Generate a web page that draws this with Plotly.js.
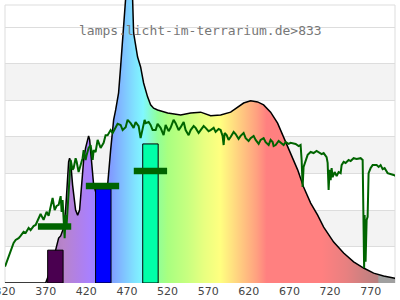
<!DOCTYPE html>
<html>
<head>
<meta charset="utf-8">
<script src="https://cdn.plot.ly/plotly-3.0.1.min.js"></script>
<style>html,body{margin:0;padding:0;background:#fff;}#chart{width:400px;height:300px;}</style>
</head>
<body>
<div id="chart"></div>
<script>
// Lamp spectrum (relative units), wavelength in nm
var specNm = [320,370,376.2,382.3,386,388.5,392.2,394.6,397.1,398.3,399.5,400.8,403.2,406.9,409.4,411.8,414.3,416.8,419.2,421.7,422.9,424.2,426.6,429.1,432.8,437.7,442.6,446.3,450,453.7,456.2,459.8,462.3,464.8,466,468.5,472.2,477.1,478.3,483.2,486.9,490.6,495.5,499.2,502.9,507.8,520.2,536.2,548.5,560.8,573.1,585.4,597.7,606.3,613.7,622.3,630.9,638.3,646.9,655.5,662.9,669.1,680.2,687.5,696.2,704.8,712.2,724.5,736.8,749.1,761.4,773.7,786,798.3,800.8];
var specVal = [0,0,0.36,0.90,1.23,1.29,1.51,2.00,2.96,3.32,3.42,3.32,2.68,2.00,1.86,2.00,2.68,3.37,3.70,3.97,4.03,3.92,3.23,2.68,2.41,2.33,2.41,2.68,3.64,4.47,4.74,5.21,5.92,6.66,7.29,7.80,8.40,7.75,6.85,6.19,5.92,5.48,5.10,4.88,4.79,4.74,4.66,4.60,4.66,4.68,4.58,4.60,4.68,4.82,4.93,4.99,4.96,4.88,4.68,4.38,4.00,3.64,3.10,2.63,2.19,1.86,1.53,1.12,0.82,0.58,0.41,0.27,0.19,0.14,0.12];

// Reference (sunlight) spectrum
var sunNm = [320,327,330.6,333.1,336.8,339.2,342.9,345.4,349.1,351.5,355.2,357.7,361.4,363.8,367.5,371.2,373.7,376.2,378.6,381.1,383.5,386,388.5,389.7,390.9,393.4,394.6,395.8,397.1,398.3,400.8,403.2,404.5,406.9,408.2,410.6,413.1,415.5,416.8,419.2,420.5,422.9,425.4,427.9,429.1,431.5,434,437.7,441.4,443.8,446.3,450,452.5,456.2,458.6,462.3,464.8,468.5,470.9,474.6,478.3,480.8,484.5,486.9,489.4,491.8,493.1,496.8,499.2,501.7,505.4,507.8,511.5,515.2,517.7,521.4,523.8,527.5,530,533.7,536.2,539.9,542.3,546,548.5,552.2,554.6,558.3,560.8,564.5,566.9,570.6,573.1,576.8,579.2,582.9,585.4,587.8,589.1,590.3,592.8,595.2,597.7,601.4,603.8,607.5,610,613.7,616.2,619.8,622.3,626,628.5,632.2,634.6,638.3,640.8,644.5,646.9,649.4,650.6,653.1,656.8,659.2,662.9,665.4,669.1,671.5,675.2,677.7,681.4,683.8,685.1,686.3,687.5,690,692.5,696.2,699.8,703.5,706,709.7,712.2,715.8,717.1,718.3,719.5,720.8,722,723.2,725.7,728.2,730.6,733.1,734.3,736.8,739.2,742.9,745.4,749.1,752.8,755.2,757.7,760.2,761.4,762,762.6,763.8,765.1,766.3,767.5,770,772.5,777.4,779.9,782.3,784.8,787.2,790.9,794.6,798.3,800.8];
var sunVal = [0.45,0.90,1.10,1.18,1.23,1.29,1.40,1.37,1.51,1.45,1.56,1.59,1.78,1.89,1.73,1.95,1.84,2.05,2.33,2.00,2.11,2.14,2.38,1.95,2.27,1.23,1.86,1.59,2.14,2.27,3.37,3.10,3.15,3.42,3.32,3.04,3.21,3.42,3.64,3.37,3.51,3.70,3.78,3.37,3.64,3.59,3.92,3.70,3.84,4.05,4.05,4.19,4.11,4.25,4.36,4.33,4.19,4.27,4.47,4.38,4.25,4.41,4.30,3.97,4.25,4.47,4.38,4.41,4.33,4.19,4.19,4.36,4.25,4.05,4.33,4.16,4.25,4.47,4.38,4.19,4.27,4.41,4.19,4.05,4.19,4.30,4.25,4.11,4.19,4.30,4.25,4.16,4.19,4.25,4.14,4.22,4.19,4.03,3.78,4.11,4.05,3.92,4.00,4.14,4.08,3.95,4.03,4.11,3.97,3.89,3.97,4.03,3.92,3.81,3.92,3.97,3.86,3.78,3.92,3.86,3.75,3.78,3.89,3.84,3.78,3.86,3.81,3.84,3.81,3.81,3.75,3.78,3.37,2.63,3.18,3.37,3.51,3.59,3.56,3.62,3.59,3.53,3.56,3.45,3.29,2.55,3.10,2.82,3.15,2.90,3.04,2.93,3.04,3.01,3.23,3.32,3.29,3.37,3.34,3.42,3.40,3.40,3.42,3.37,1.45,0.41,1.86,0.58,1.73,1.81,3.01,3.15,3.23,3.23,3.18,3.23,3.12,3.15,3.01,2.99,2.96,2.93];

// Band bars (UV / violet / blue / cyan)
var bandCenter = [382, 441, 499];
var bandWidth = 19;
var bandValue = [0.90, 2.58, 3.81];
var bandColor = ['#4a0050', '#0000ff', '#00ffa8'];

// Reference level markers
var refCenter = [381, 440, 499];
var refHalfWidth = 20.5;
var refValue = [1.55, 2.66, 3.07];

var tickNm = [320,370,420,470,520,570,620,670,720,770];
var titleText = 'lamps.licht-im-terrarium.de>833';

var xMin = 320.0, xMax = 800.0;
var yMax = 7.753;

// wavelength colour stops
var gradNm =  [320, 370, 392, 410, 425, 440, 452, 465, 480, 490, 508, 520, 545, 565, 585, 600, 615, 630, 642, 710, 740, 779, 780, 801];
var gradCol = ['#a070b0','#a878b8','#b884cc','#b080e8','#a880ff','#8888ff','#80a0ff','#80c0ff','#80e4ff','#80f8ff','#90ff98','#a8ff80','#c8ff80','#e8ff80','#ffff80','#ffe080','#ffc080','#ffa080','#ff8080','#ff8080','#e88080','#b88080','#a0a0a0','#a0a0a0'];
var colorscale = gradNm.map(function(n, i){ return [(n - 320) / (801 - 320), gradCol[i]]; });

var traces = [];
traces.push({
  type: 'scatter', mode: 'lines', x: specNm, y: specVal,
  line: {color: '#000', width: 1.5},
  fill: 'tozeroy',
  fillgradient: {type: 'horizontal', colorscale: colorscale, start: 320, stop: 801},
  hoverinfo: 'skip', showlegend: false
});
bandCenter.forEach(function(c, i){
  var l = c - bandWidth/2, r = c + bandWidth/2;
  traces.push({
    type: 'scatter', mode: 'lines',
    x: [l, l, r, r, l], y: [0, bandValue[i], bandValue[i], 0, 0],
    fill: 'toself', fillcolor: bandColor[i],
    line: {color: '#000', width: 1}, showlegend: false, hoverinfo: 'skip'
  });
});
traces.push({
  type: 'scatter', mode: 'lines', x: sunNm, y: sunVal,
  line: {color: '#006400', width: 2}, showlegend: false, hoverinfo: 'skip'
});
var mx = [], my = [];
refCenter.forEach(function(c, i){
  mx.push(c - refHalfWidth, c + refHalfWidth, null);
  my.push(refValue[i], refValue[i], null);
});
traces.push({
  type: 'scatter', mode: 'lines', x: mx, y: my,
  line: {color: '#006400', width: 6.5}, showlegend: false, hoverinfo: 'skip'
});

var shapes = [];
[[1,2],[3,4],[5,6]].forEach(function(b){
  shapes.push({type:'rect', xref:'paper', yref:'y', x0:0, x1:1, y0:b[0], y1:b[1], fillcolor:'#f3f3f3', line:{width:0}, layer:'below'});
});
shapes.push({type:'rect', xref:'paper', yref:'y', x0:0, x1:1, y0:0, y1:7.616, line:{color:'#dddddd', width:1}, fillcolor:'rgba(0,0,0,0)', layer:'below'});

var layout = {
  width: 400, height: 300,
  margin: {l: 5, r: 5, t: 0, b: 17},
  paper_bgcolor: '#fff', plot_bgcolor: '#fff',
  showlegend: false,
  xaxis: {range: [xMin, xMax], tickvals: tickNm, ticktext: tickNm.map(String), ticks: '', showgrid: false, zeroline: false, showline: false,
          ticklabeloverflow: 'allow', automargin: false,
          tickfont: {family: 'DejaVu Sans', size: 11, color: '#444'}},
  yaxis: {range: [0, yMax], dtick: 1, tick0: 0, showticklabels: false, ticks: '', gridcolor: '#dddddd', gridwidth: 1, zeroline: false, showline: false},
  shapes: shapes,
  annotations: [{text: titleText, xref: 'paper', yref: 'paper', x: 0.5, y: 0.8905, xanchor: 'center', yanchor: 'middle', showarrow: false,
                 font: {family: 'DejaVu Sans Mono', size: 13, color: '#777'}}]
};

Plotly.newPlot('chart', traces, layout, {displayModeBar: false, staticPlot: true});
</script>
</body>
</html>
